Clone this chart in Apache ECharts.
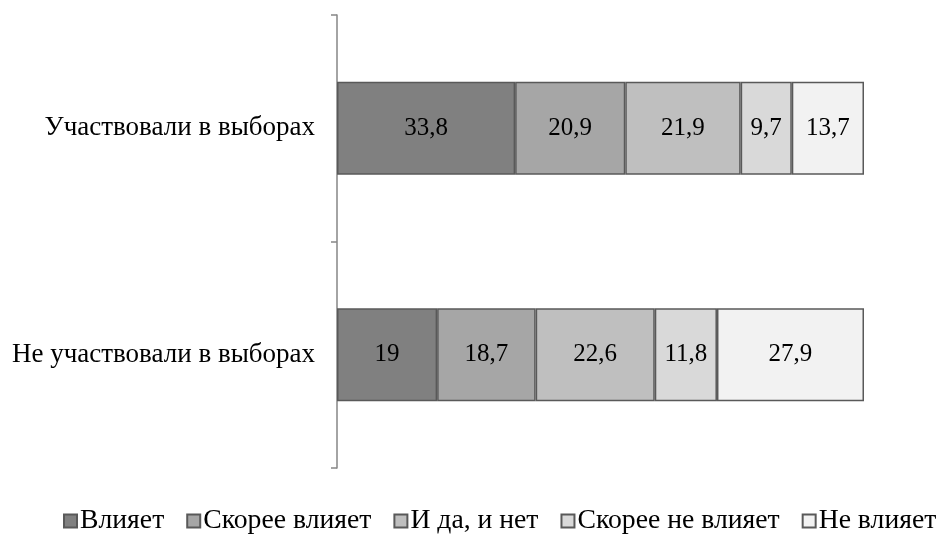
<!DOCTYPE html>
<html><head><meta charset="utf-8">
<script src="https://cdn.jsdelivr.net/npm/echarts@6/dist/echarts.min.js"></script>
<style>html,body{margin:0;padding:0;background:#fff}#c{width:939px;height:534px}</style>
</head><body><div id="c"></div>
<script>
var categories = ['Участвовали в выборах', 'Не участвовали в выборах'];
var seriesNames = ['Влияет', 'Скорее влияет', 'И да, и нет', 'Скорее не влияет', 'Не влияет'];
var vliyaet = [33.8, 19];
var skoreeVliyaet = [20.9, 18.7];
var iDaINet = [21.9, 22.6];
var skoreeNeVliyaet = [9.7, 11.8];
var neVliyaet = [13.7, 27.9];
var colors = ['#808080', '#a6a6a6', '#bfbfbf', '#d9d9d9', '#f2f2f2'];
var allData = [vliyaet, skoreeVliyaet, iDaINet, skoreeNeVliyaet, neVliyaet];
var FONT = '"Liberation Serif", "DejaVu Serif", serif';
var chart = echarts.init(document.getElementById('c'));
chart.setOption({
  animation: false,
  textStyle: { fontFamily: FONT },
  grid: { left: 337, right: 75, top: 15, bottom: 66 },
  legend: {
    top: 507, left: 63, padding: 0,
    itemWidth: 13, itemHeight: 13, itemGap: 22,
    icon: 'rect',
    textStyle: { fontFamily: FONT, fontSize: 27.7, color: '#000', padding: [0,0,0,-2] },
    data: seriesNames
  },
  xAxis: { type: 'value', min: 0, max: 100, show: false },
  yAxis: {
    type: 'category', inverse: true, data: categories,
    axisLine: { lineStyle: { color: '#868686', width: 1.5 } },
    axisTick: { show: true, length: 6, lineStyle: { color: '#868686', width: 1.5 } },
    axisLabel: { fontFamily: FONT, fontSize: 27, color: '#000', margin: 22 }
  },
  series: seriesNames.map(function (n, i) {
    return {
      name: n, type: 'bar', stack: 'all', barWidth: 93,
      data: allData[i],
      itemStyle: { color: colors[i], borderColor: '#595959', borderWidth: 1.5 },
      label: {
        show: true, position: 'inside', fontFamily: FONT, fontSize: 25, color: '#000',
        formatter: function (p) { return String(p.value).replace('.', ','); }
      }
    };
  })
});
</script></body></html>
